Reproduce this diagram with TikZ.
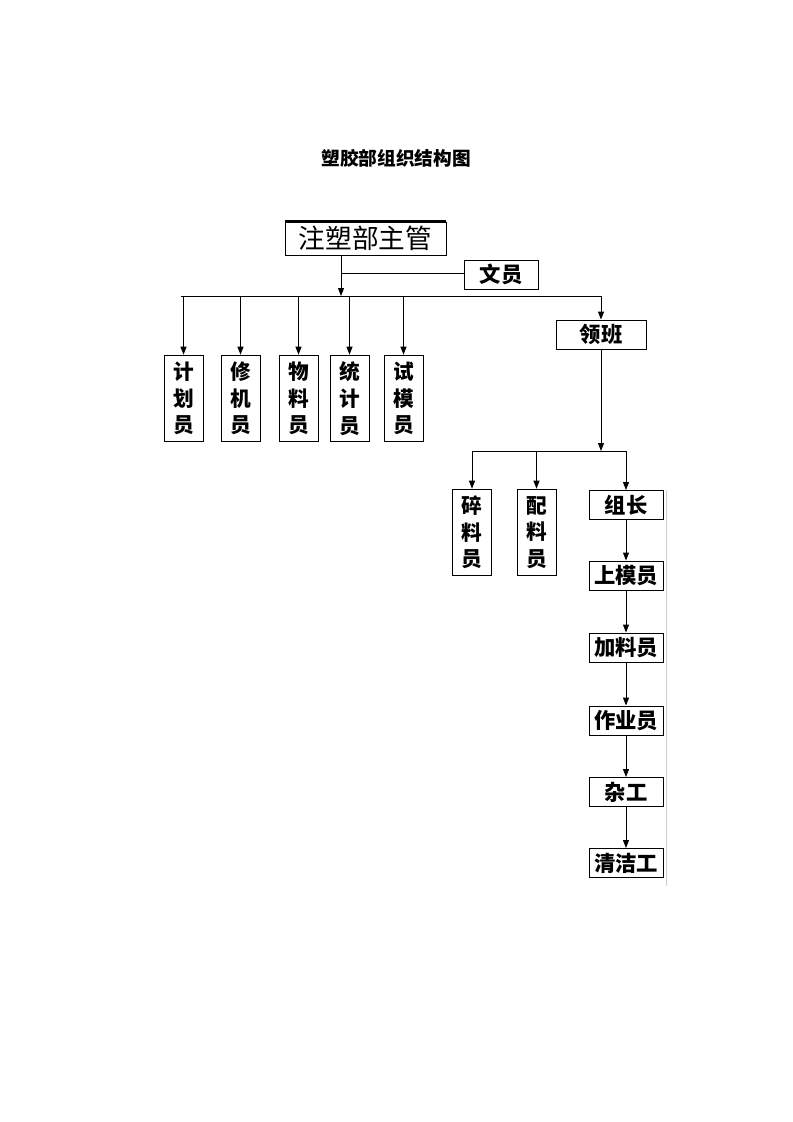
\documentclass[tikz,border=0pt]{standalone}
\usepackage{fontspec}
\setmainfont{Noto Sans CJK SC}
\usetikzlibrary{arrows.meta}
\begin{document}
\begin{tikzpicture}[x=0.75pt,y=-0.75pt]
	\tikzstyle{box}=[draw,line width=0.7pt,inner sep=0pt,align=center]
	\tikzstyle{hbox}=[box,minimum width=55.5pt,minimum height=21.75pt,font=\fontsize{16}{18}\selectfont\bfseries]
	\tikzstyle{vbox}=[box,minimum width=29.25pt,minimum height=65pt,font=\fontsize{15.5}{20}\selectfont\bfseries]
	\tikzstyle{arr}=[line width=0.7pt,-{Triangle[length=6pt,width=4.5pt]}]
	\tikzstyle{ln}=[line width=0.7pt]
	\useasboundingbox (0,0) rectangle (793,1122);
	% title
	\node[font=\fontsize{14}{16}\selectfont\bfseries] (title) at (396,158) {塑胶部组织结构图};
	% top
	\node[box,minimum width=120.75pt,minimum height=24.75pt,font=\fontsize{20}{24}\selectfont] (zhuguan) at (365.5,238.5) {注塑部主管};
	\draw[line width=2.5pt] (zhuguan.north west) -- (zhuguan.north east);
	\node[hbox] (wenyuan) at (501,274.5) {文员};
	\node[hbox,minimum width=67.5pt] (lingban) at (601,334.5) {领班};
	\coordinate (bus) at (341,296);
	\coordinate (busL) at (181,296);
	\coordinate (busR) at (601,296);
	\coordinate (wy) at (341,273);
	\draw[arr] (zhuguan.south -| bus) -- (bus);
	\draw[ln] (wy) -- (wy -| wenyuan.west);
	\draw[ln] (busL) -- (busR);
	\draw[arr] (busR) -- (lingban.north);
	\foreach \name/\x/\txt in {jihua/183.5/计\\划\\员, xiuji/240.5/修\\机\\员, wuliao/298.5/物\\料\\员, tongji/349.5/统\\计\\员, shimo/403.5/试\\模\\员}
	{
		\node[vbox] (\name) at (\x,398.5) {\txt};
		\draw[arr] (\name.north |- bus) -- (\name.north);
	}
	% lower branch
	\coordinate (bus2) at (601,451);
	\node[vbox] (suiliao) at (472,532.5) {碎\\料\\员};
	\node[vbox] (peiliao) at (536.5,532.5) {配\\料\\员};
	\node[hbox] (zuzhang) at (626,505) {组长};
	\draw[arr] (lingban.south) -- (bus2);
	\draw[ln] (suiliao.north |- bus2) -- (zuzhang.north |- bus2);
	\draw[arr] (suiliao.north |- bus2) -- (suiliao.north);
	\draw[arr] (peiliao.north |- bus2) -- (peiliao.north);
	\draw[arr] (zuzhang.north |- bus2) -- (zuzhang.north);
	\node[hbox] (shangmo) at (626,575.5) {上模员};
	\node[hbox] (jialiao) at (626,647.5) {加料员};
	\node[hbox] (zuoye) at (626,720.5) {作业员};
	\node[hbox] (zagong) at (626,792) {杂工};
	\node[hbox] (qingjie) at (626,863) {清洁工};
	\foreach \a/\b in {zuzhang/shangmo, shangmo/jialiao, jialiao/zuoye, zuoye/zagong, zagong/qingjie}
	{
		\draw[arr] (\a.south) -- (\b.north);
	}
	\draw[gray!40,line width=0.7pt] (666,490) -- (666,886);
\end{tikzpicture}
\end{document}
